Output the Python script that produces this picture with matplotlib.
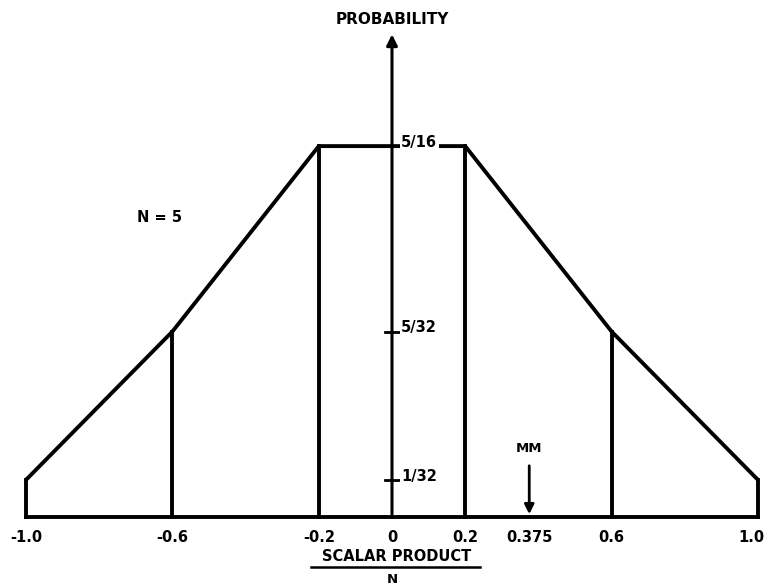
import matplotlib
matplotlib.use('Agg')
import matplotlib.pyplot as plt

# 数据: N = 5 的二项分布
x_vals = [-1.0, -0.6, -0.2, 0.2, 0.6, 1.0]
probs = [1/32, 5/32, 10/32, 10/32, 5/32, 1/32]
x_ticks = [-1.0, -0.6, -0.2, 0, 0.2, 0.375, 0.6, 1.0]
x_labels = ['-1.0', '-0.6', '-0.2', '0', '0.2', '0.375', '0.6', '1.0']
y_ticks = [1/32, 5/32, 5/16]
y_labels = ['1/32', '5/32', '5/16']
mm_x = 0.375

plt.rcParams['font.family'] = ['DejaVu Sans']
plt.rcParams['font.weight'] = 'bold'

fig = plt.figure(figsize=(7.67, 5.87), dpi=100)
ax = fig.add_axes([0, 0, 1, 1])
ax.set_xlim(-1.071, 1.0246)
ax.set_ylim(-0.059, 0.4356)
ax.axis('off')

lw = 2.8
# 外轮廓
ax.plot(x_vals, probs, color='k', lw=lw, solid_capstyle='butt')
ax.plot([x_vals[0], x_vals[-1]], [0, 0], color='k', lw=lw)
for x, p in zip(x_vals, probs):
    ax.plot([x, x], [0, p], color='k', lw=lw)

# 纵轴
ax.annotate('', xy=(0, 0.409), xytext=(0, 0),
            arrowprops=dict(arrowstyle='-|>', lw=2.2, color='k', mutation_scale=16))
for yt, yl in zip(y_ticks, y_labels):
    ax.plot([-0.018, 0.018], [yt, yt], color='k', lw=2)
    ax.text(0.025, yt + 0.003, yl, fontsize=10.5, fontweight='bold', ha='left', va='center',
            bbox=dict(facecolor='white', edgecolor='none', pad=1))
ax.text(0, 0.419, 'PROBABILITY', fontsize=11, fontweight='bold', ha='center', va='center')

# 横轴刻度标签 (最右边的标签稍微左移, 免得被裁掉)
for xt, xl in zip(x_ticks, x_labels):
    ha = 'right' if xt == x_ticks[-1] else 'center'
    pos = xt + 0.017 if xt == x_ticks[-1] else xt
    ax.text(pos, -0.0177, xl, fontsize=10.5, fontweight='bold', ha=ha, va='center')

ax.text(0.014, -0.0337, 'SCALAR PRODUCT', fontsize=10.5, fontweight='bold', ha='center', va='center')
ax.plot([-0.22, 0.24], [-0.042, -0.042], color='k', lw=1.8)
ax.text(0, -0.053, 'N', fontsize=9.5, fontweight='bold', ha='center', va='center')

# MM 箭头
ax.annotate('', xy=(mm_x, 0), xytext=(mm_x, 0.0455),
            arrowprops=dict(arrowstyle='-|>', lw=2, color='k', mutation_scale=14))
ax.text(mm_x, 0.058, 'MM', fontsize=9.5, fontweight='bold', ha='center', va='center')

ax.text(-0.634, 0.2527, 'N = 5', fontsize=10.5, fontweight='bold', ha='center', va='center')

plt.savefig('out.png', dpi=100)
